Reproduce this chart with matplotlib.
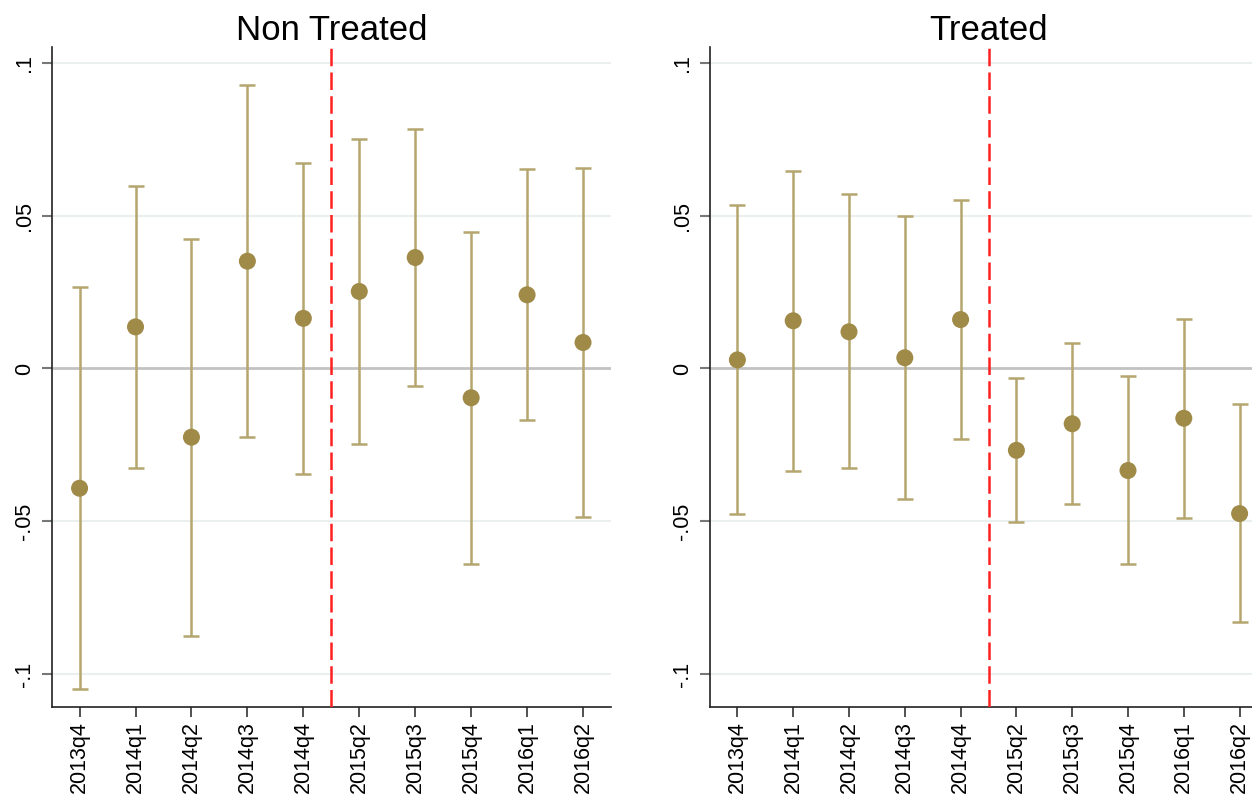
import numpy as np
import matplotlib
matplotlib.use("Agg")
import matplotlib.pyplot as plt

plt.rcParams['font.family'] = ['Liberation Sans', 'DejaVu Sans']

quarters = ["2013q4", "2014q1", "2014q2", "2014q3", "2014q4",
            "2015q2", "2015q3", "2015q4", "2016q1", "2016q2"]

# non treated: point estimate, upper and lower CI
nt_coef = [-0.0392, 0.0136, -0.0225, 0.0351, 0.0164, 0.0252, 0.0363, -0.0096, 0.0241, 0.0085]
nt_hi = [0.0266, 0.0598, 0.0422, 0.0929, 0.0674, 0.0751, 0.0785, 0.0448, 0.0652, 0.0657]
nt_lo = [-0.1050, -0.0326, -0.0874, -0.0224, -0.0344, -0.0246, -0.0059, -0.0639, -0.0169, -0.0487]

# treated
tr_coef = [0.0028, 0.0156, 0.0120, 0.0035, 0.0160, -0.0268, -0.0181, -0.0334, -0.0163, -0.0475]
tr_hi = [0.0534, 0.0646, 0.0571, 0.0500, 0.0552, -0.0031, 0.0082, -0.0025, 0.0163, -0.0116]
tr_lo = [-0.0475, -0.0334, -0.0327, -0.0428, -0.0232, -0.0503, -0.0443, -0.0640, -0.0490, -0.0831]

yticks = [-0.1, -0.05, 0, 0.05, 0.1]
ytick_labels = ["-.1", "-.05", "0", ".05", ".1"]

dot_col = "#a08a48"
bar_col = "#b5a56e"

fig = plt.figure(figsize=(12.52, 7.97), dpi=100)
ax1 = fig.add_axes([51.6 / 1252, 90 / 797, 559.4 / 1252, 660 / 797])
# right panel runs a bit past the image edge, as in the original
ax2 = fig.add_axes([709.5 / 1252, 90 / 797, 558 / 1252, 660 / 797])


def draw(ax, coef, hi, lo, title):
    x = np.arange(len(quarters))
    coef = np.array(coef)
    err = [coef - np.array(lo), np.array(hi) - coef]
    for yv in [-0.1, -0.05, 0.05, 0.1]:
        ax.axhline(yv, color="#eaf0f0", lw=1.5, zorder=0)
    ax.axhline(0, color="#c2c2c2", lw=2, zorder=1)
    ax.errorbar(x, coef, yerr=err, fmt="none", ecolor=bar_col, elinewidth=1.8,
                capsize=5.5, capthick=1.8, zorder=2)
    ax.scatter(x, coef, s=150, color=dot_col, zorder=3, edgecolors="none")
    ax.axvline(4.5, color="#ff2020", lw=1.8, dashes=(7, 2.5), zorder=4)
    ax.set_xlim(-0.5, 9.5)
    ax.set_ylim(-0.1108, 0.1052)
    ax.set_xticks(x)
    ax.set_xticklabels(quarters, rotation=90, fontsize=15.5)
    ax.set_yticks(yticks)
    ax.set_yticklabels(ytick_labels, rotation=90, va="center", fontsize=15.5)
    ax.tick_params(axis="x", length=7, width=1.2, color="#333333", pad=3)
    ax.tick_params(axis="y", length=7, width=1.5, color="#777777", pad=5)
    for s in ["top", "right"]:
        ax.spines[s].set_visible(False)
    for s in ["left", "bottom"]:
        ax.spines[s].set_linewidth(1.2)
        ax.spines[s].set_color("#222222")
    ax.set_title(title, fontsize=25, pad=4)


draw(ax1, nt_coef, nt_hi, nt_lo, "Non Treated")
draw(ax2, tr_coef, tr_hi, tr_lo, "Treated")

fig.savefig("out.png", dpi=100)
